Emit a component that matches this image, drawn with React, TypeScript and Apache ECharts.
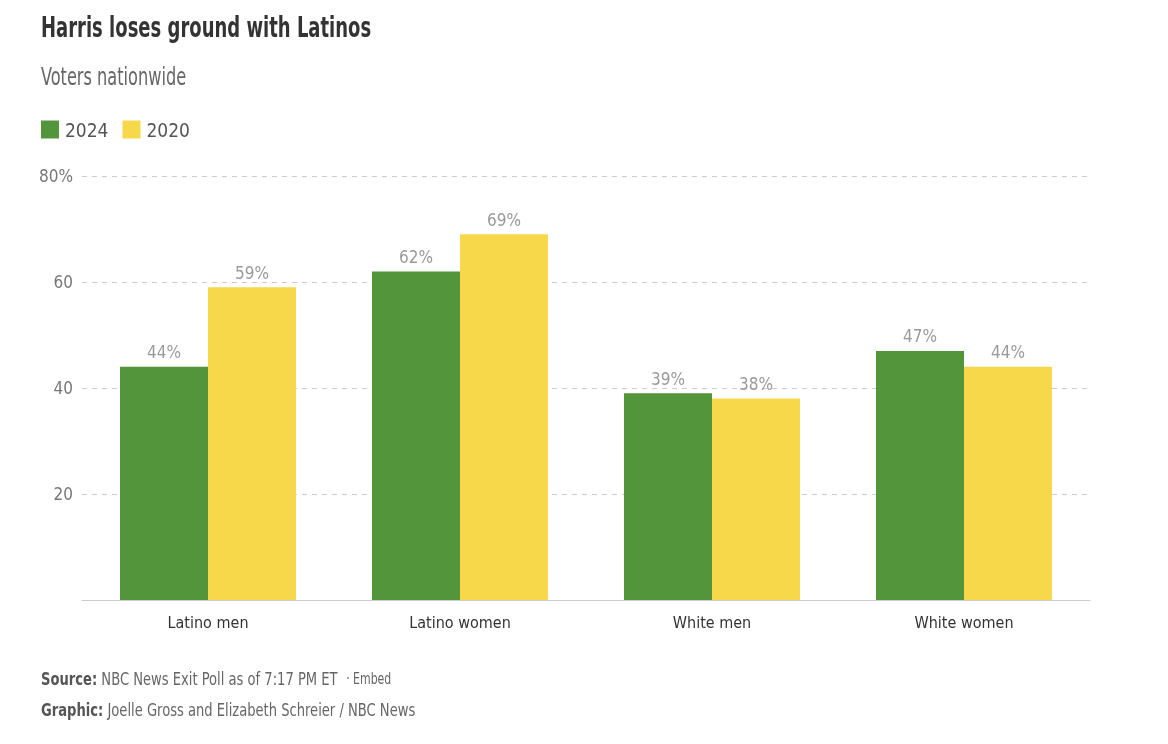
import React, { useEffect, useRef } from "react";
import * as echarts from "echarts";

const categories = ["Latino men", "Latino women", "White men", "White women"];
const values2024 = [44, 62, 39, 47];
const values2020 = [59, 69, 38, 44];
const seriesNames = ["2024", "2020"];
const yTicks = [0, 20, 40, 60, 80];

const FONT = "'DejaVu Sans Condensed', 'Liberation Sans Narrow', sans-serif";

export default function App() {
  const ref = useRef<HTMLDivElement>(null);
  useEffect(() => {
    if (!ref.current) return;
    const chart = echarts.init(ref.current, undefined, { renderer: "svg" });
    const labelStyle = {
      show: true,
      position: "top" as const,
      distance: 6,
      color: "#999",
      fontSize: 17,
      fontFamily: FONT,
      formatter: (p: any) => p.value + "%",
    };
    chart.setOption({
      animation: false,
      textStyle: { fontFamily: FONT },
      legend: {
        left: 41,
        top: 120,
        padding: 0,
        icon: "rect",
        itemWidth: 18,
        itemHeight: 18,
        itemGap: 14,
        data: seriesNames,
        textStyle: { fontFamily: FONT, fontSize: 19, color: "#555", padding: [0, 0, 0, 1] },
      },
      grid: { left: 82, right: 78, top: 176, bottom: 144, containLabel: false },
      xAxis: {
        type: "category",
        data: categories,
        axisLine: { lineStyle: { color: "#ccc", width: 1 } },
        axisTick: { show: false },
        axisLabel: { color: "#333", fontSize: 16, fontFamily: FONT, margin: 14 },
      },
      yAxis: {
        type: "value",
        min: yTicks[0],
        max: yTicks[yTicks.length - 1],
        interval: 20,
        axisLine: { show: false },
        axisTick: { show: false },
        splitLine: { lineStyle: { color: "#ccc", type: [5, 5], width: 1 } },
        axisLabel: {
          color: "#777",
          fontSize: 17,
          fontFamily: FONT,
          margin: 9,
          formatter: (v: number) => (v === 0 ? "" : v === 80 ? "80%" : String(v)),
        },
      },
      series: [
        {
          name: seriesNames[0],
          type: "bar",
          data: values2024,
          barWidth: 88,
          barGap: "0%",
          itemStyle: { color: "#52953a" },
          label: labelStyle,
        },
        {
          name: seriesNames[1],
          type: "bar",
          data: values2020,
          barWidth: 88,
          itemStyle: { color: "#f6d84a" },
          label: labelStyle,
        },
      ],
      graphic: [
        {
          type: "text",
          x: 41,
          y: 27,
          scaleX: 0.69,
          style: {
            text: "Harris loses ground with Latinos",
            fontFamily: FONT,
            fontSize: 29,
            fontWeight: "bold",
            fill: "#333",
            verticalAlign: "middle",
          },
        },
        {
          type: "text",
          x: 41,
          y: 76,
          scaleX: 0.72,
          style: {
            text: "Voters nationwide",
            fontFamily: FONT,
            fontSize: 25,
            fill: "#666",
            verticalAlign: "middle",
          },
        },
        {
          type: "text",
          x: 41,
          y: 679,
          scaleX: 0.81,
          style: {
            text: "{b|Source:} NBC News Exit Poll as of 7:17 PM ET  {s|· Embed}",
            rich: {
              b: { fontFamily: FONT, fontSize: 18, fontWeight: "bold", fill: "#555" },
              s: { fontFamily: FONT, fontSize: 15, fill: "#666" },
            },
            fontFamily: FONT,
            fontSize: 18,
            fill: "#666",
            verticalAlign: "middle",
          },
        },
        {
          type: "text",
          x: 41,
          y: 710,
          scaleX: 0.81,
          style: {
            text: "{b|Graphic:} Joelle Gross and Elizabeth Schreier / NBC News",
            rich: {
              b: { fontFamily: FONT, fontSize: 18, fontWeight: "bold", fill: "#555" },
            },
            fontFamily: FONT,
            fontSize: 18,
            fill: "#666",
            verticalAlign: "middle",
          },
        },
      ],
    });
    return () => chart.dispose();
  }, []);
  return (
    <div
      ref={ref}
      style={{ position: "fixed", left: 0, top: 0, width: 1168, height: 744 }}
    />
  );
}
